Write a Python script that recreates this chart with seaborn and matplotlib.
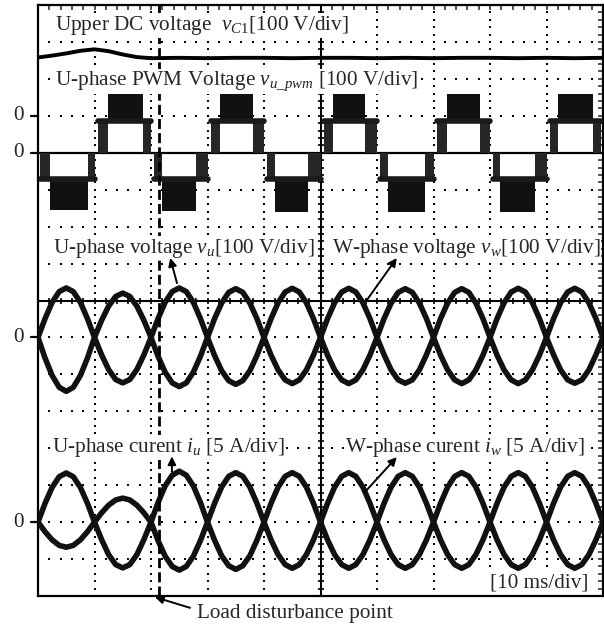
import numpy as np
import matplotlib
matplotlib.use("Agg")
import matplotlib.pyplot as plt
import seaborn as sns

# ---- data (x in ms, y in grid rows relative to channel zero) ----
t_ms = np.arange(0, 100.01, 1.25)

volt_a = [0, 0.51, 0.95, 1.24, 1.34, 1.24, 0.95, 0.51,
          0, -0.47, -0.87, -1.14, -1.23, -1.14, -0.87, -0.47,
          0, 0.51, 0.95, 1.24, 1.34, 1.24, 0.95, 0.51,
          0, -0.49, -0.90, -1.17, -1.27, -1.17, -0.90, -0.49,
          0, 0.51, 0.94, 1.23, 1.33, 1.23, 0.94, 0.51,
          0, -0.48, -0.88, -1.15, -1.25, -1.15, -0.88, -0.48,
          0, 0.51, 0.93, 1.22, 1.32, 1.22, 0.93, 0.51,
          0, -0.48, -0.88, -1.15, -1.25, -1.15, -0.88, -0.48,
          0, 0.51, 0.94, 1.23, 1.33, 1.23, 0.94, 0.51,
          0, -0.47, -0.88, -1.15, -1.24, -1.15, -0.88, -0.47,
          0]
volt_b = [0, -0.56, -1.03, -1.35, -1.46, -1.35, -1.03, -0.56,
          0, 0.46, 0.85, 1.11, 1.20, 1.11, 0.85, 0.46,
          0, -0.51, -0.94, -1.23, -1.33, -1.23, -0.94, -0.51,
          0, 0.51, 0.93, 1.22, 1.32, 1.22, 0.93, 0.51,
          0, -0.48, -0.88, -1.15, -1.25, -1.15, -0.88, -0.48,
          0, 0.51, 0.94, 1.23, 1.33, 1.23, 0.94, 0.51,
          0, -0.47, -0.88, -1.15, -1.24, -1.15, -0.88, -0.47,
          0, 0.51, 0.93, 1.22, 1.32, 1.22, 0.93, 0.51,
          0, -0.48, -0.88, -1.15, -1.25, -1.15, -0.88, -0.48,
          0, 0.51, 0.94, 1.23, 1.33, 1.23, 0.94, 0.51,
          0]
curr_a = [0, 0.51, 0.94, 1.23, 1.33, 1.23, 0.94, 0.51,
          0, -0.47, -0.88, -1.15, -1.24, -1.15, -0.88, -0.47,
          0, 0.53, 0.98, 1.27, 1.38, 1.27, 0.98, 0.53,
          0, -0.49, -0.91, -1.18, -1.28, -1.18, -0.91, -0.49,
          0, 0.51, 0.95, 1.24, 1.34, 1.24, 0.95, 0.51,
          0, -0.48, -0.88, -1.15, -1.25, -1.15, -0.88, -0.48,
          0, 0.51, 0.95, 1.24, 1.34, 1.24, 0.95, 0.51,
          0, -0.48, -0.88, -1.15, -1.25, -1.15, -0.88, -0.48,
          0, 0.51, 0.95, 1.24, 1.34, 1.24, 0.95, 0.51,
          0, -0.48, -0.88, -1.15, -1.25, -1.15, -0.88, -0.48,
          0]
curr_b = [0, -0.26, -0.48, -0.63, -0.68, -0.63, -0.48, -0.26,
          0, 0.25, 0.46, 0.60, 0.65, 0.60, 0.46, 0.25,
          0, -0.50, -0.92, -1.20, -1.30, -1.20, -0.92, -0.50,
          0, 0.51, 0.95, 1.24, 1.34, 1.24, 0.95, 0.51,
          0, -0.48, -0.88, -1.15, -1.25, -1.15, -0.88, -0.48,
          0, 0.51, 0.95, 1.24, 1.34, 1.24, 0.95, 0.51,
          0, -0.48, -0.88, -1.15, -1.25, -1.15, -0.88, -0.48,
          0, 0.51, 0.95, 1.24, 1.34, 1.24, 0.95, 0.51,
          0, -0.48, -0.88, -1.15, -1.25, -1.15, -0.88, -0.48,
          0, 0.51, 0.95, 1.24, 1.34, 1.24, 0.95, 0.51,
          0]

dc_t = [0, 2.5, 5, 7.5, 10, 12.5, 15, 17.5, 20, 25, 30, 35, 40, 45, 50,
        55, 60, 65, 70, 75, 80, 85, 90, 95, 100]
dc_v = [1.58, 1.63, 1.69, 1.76, 1.80, 1.75, 1.66, 1.59, 1.56, 1.57, 1.56, 1.57, 1.57,
        1.56, 1.57, 1.57, 1.56, 1.57, 1.56, 1.57, 1.57, 1.56, 1.57, 1.56, 1.57]

# multilevel PWM: one entry per half cycle
pwm_start = [0.0, 10.3, 20.3, 30.3, 40.3, 50.3, 60.3, 70.3, 80.3, 90.3]
pwm_end = [10.3, 20.3, 30.3, 40.3, 50.3, 60.3, 70.3, 80.3, 90.3, 100.0]
pwm_block_on = [2.1, 12.4, 21.9, 32.2, 41.9, 52.2, 61.9, 72.4, 81.8, 92.0]
pwm_block_off = [8.8, 18.6, 28.0, 38.1, 47.8, 57.9, 68.5, 78.2, 88.0, 98.2]
pwm_inner = [-0.72, 0.86, -0.72, 0.86, -0.72, 0.86, -0.72, 0.86, -0.72, 0.86]
pwm_outer = [-1.54, 1.73, -1.57, 1.60, -1.60, 1.60, -1.60, 1.60, -1.60, 1.60]

disturb_t = 21.4

# channel zero positions (grid rows from bottom)
DC_ZERO, PWM_ZERO, V_ZERO, I_ZERO = 13, 12, 7, 2

sns.set_style("white")
plt.rcParams['font.family'] = ['Liberation Serif', 'DejaVu Serif']
plt.rcParams['mathtext.fontset'] = 'custom'
plt.rcParams['mathtext.rm'] = 'Liberation Serif'
plt.rcParams['mathtext.it'] = 'Liberation Serif:italic'

fig = plt.figure(figsize=(6.04, 6.26), dpi=100)
ax = fig.add_axes([38 / 604, 30 / 626, 565 / 604, 591 / 626])
ax.set_xlim(0, 100)
ax.set_ylim(0, 16)

# scope graticule: dotted rows / columns, centre cross, edge ticks
gx = np.arange(0, 100.01, 2)
for r in range(1, 16):
    if r != 8:
        ax.scatter(gx, np.full_like(gx, r, dtype=float), s=2.2, marker='s', color='k', lw=0, zorder=1)
gy = np.arange(0, 16.01, 0.2)
for c in range(10, 100, 10):
    if c != 50:
        ax.scatter(np.full_like(gy, c, dtype=float), gy, s=2.2, marker='s', color='k', lw=0, zorder=1)
ax.axhline(8, color='k', lw=1.5, zorder=2)
ax.axvline(50, color='k', lw=1.5, zorder=2)
ax.plot(gx, np.full_like(gx, 8.0), ls='none', marker='|', ms=5, mew=1.2, color='k', zorder=2)
ax.plot(np.full_like(gy, 50.0), gy, ls='none', marker='_', ms=5, mew=1.2, color='k', zorder=2)

ax.set_xticks(np.arange(0, 101, 10))
ax.set_xticks(np.arange(0, 101, 2), minor=True)
ax.set_yticks(np.arange(0, 17, 1))
ax.set_yticks(np.arange(0, 16.01, 0.2), minor=True)
ax.tick_params(which='both', direction='in', top=True, right=True, length=3.5, width=1.1,
               labelbottom=False, labelleft=False)
for sp in ax.spines.values():
    sp.set_linewidth(1.6)
    sp.set_color('k')

# load disturbance marker
ax.axvline(disturb_t, color='k', lw=2.0, ls=(0, (3.6, 1.5)), zorder=6)

# DC voltage
sns.lineplot(x=dc_t, y=np.array(dc_v) + DC_ZERO, ax=ax, color='k', linewidth=2.8,
             solid_joinstyle='round', zorder=4)

# PWM voltage
ax.plot([0, 100], [PWM_ZERO, PWM_ZERO], color='k', lw=1.6, zorder=3)
for s, e, on, off, inn, out in zip(pwm_start, pwm_end, pwm_block_on, pwm_block_off,
                                   pwm_inner, pwm_outer):
    z = PWM_ZERO
    ax.fill_between([s + 0.3, on], z, z + inn, color='#262626', lw=0, zorder=3)
    ax.fill_between([off, e - 0.3], z, z + inn, color='#262626', lw=0, zorder=3)
    ax.fill_between([on, off], z + inn, z + out, color='#111111', lw=0, zorder=3)
    ax.plot([s + 0.3, e - 0.3], [z + inn, z + inn], color='#1a1a1a', lw=4, zorder=3)

# phase voltages and currents
for series, zero in [(volt_a, V_ZERO), (volt_b, V_ZERO), (curr_a, I_ZERO), (curr_b, I_ZERO)]:
    sns.lineplot(x=t_ms, y=np.array(series) + zero, ax=ax, color='#111111',
                 linewidth=4.0, solid_joinstyle='round', zorder=5)

# zero markers on the left
for zr in [DC_ZERO, PWM_ZERO, V_ZERO, I_ZERO]:
    ax.plot([-1.3, 0], [zr, zr], color='k', lw=1.6, clip_on=False)
    ax.text(-3.4, zr, '0', fontsize=15.3, ha='center', va='center', clip_on=False)

box = dict(facecolor='white', edgecolor='none', pad=0.5)
fs = 15.3
ax.text(3.0, 15.32, 'Upper DC voltage  $v_{\\mathit{C1}}$[100 V/div]', fontsize=fs, va='baseline', bbox=box, zorder=8)
ax.text(3.0, 13.83, 'U-phase PWM Voltage $v_{u\\_pwm}$ [100 V/div]', fontsize=fs, va='baseline', bbox=box, zorder=8)
ax.text(2.65, 9.29, 'U-phase voltage $v_u$[100 V/div]', fontsize=fs, va='baseline', bbox=box, zorder=8)
ax.text(52.0, 9.29, 'W-phase voltage $v_w$[100 V/div]', fontsize=fs, va='baseline', bbox=box, zorder=8)
ax.text(2.5, 3.90, 'U-phase curent $i_u$ [5 A/div]', fontsize=fs, va='baseline', bbox=box, zorder=8)
ax.text(54.3, 3.90, 'W-phase curent $i_w$ [5 A/div]', fontsize=fs, va='baseline', bbox=box, zorder=8)
ax.text(80.0, 0.22, '[10 ms/div]', fontsize=fs, va='baseline', bbox=box, zorder=8)
ax.text(28.1, -0.60, 'Load disturbance point', fontsize=fs, va='baseline', clip_on=False)

arrow = dict(arrowstyle='-|>', color='k', lw=1.4, mutation_scale=12, shrinkA=0, shrinkB=0)
ax.annotate('', xy=(23.4, 9.15), xytext=(24.6, 8.47), arrowprops=arrow, zorder=9)
ax.annotate('', xy=(63.5, 9.15), xytext=(58.2, 8.01), arrowprops=arrow, zorder=9)
ax.annotate('', xy=(23.7, 3.78), xytext=(23.7, 3.36), arrowprops=arrow, zorder=9)
ax.annotate('', xy=(63.5, 3.76), xytext=(57.9, 2.82), arrowprops=arrow, zorder=9)
ax.annotate('', xy=(20.7, -0.03), xytext=(26.9, -0.32), arrowprops=arrow,
            annotation_clip=False, zorder=9)

fig.savefig('out.png', dpi=100)
